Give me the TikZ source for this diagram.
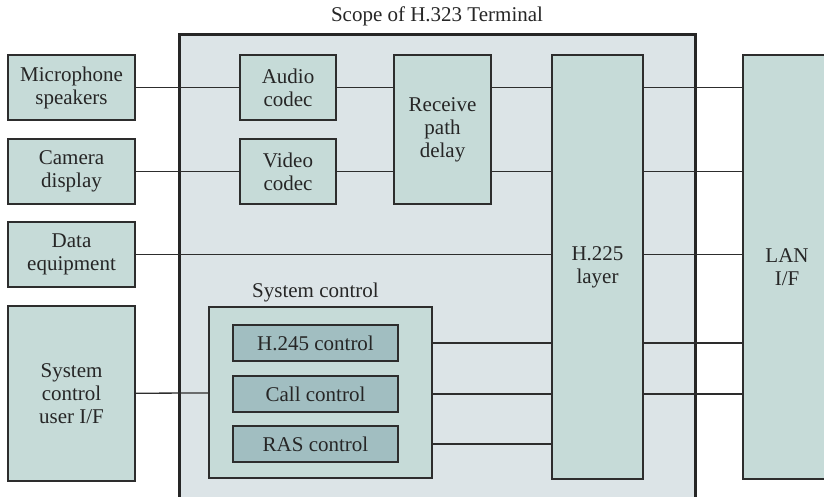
\documentclass[tikz,border=0pt]{standalone}
\usepackage{fontspec}
\setmainfont{Liberation Serif}
\usetikzlibrary{positioning}
\definecolor{Edge}{RGB}{45,45,45}
\definecolor{Box}{RGB}{198,219,216}
\definecolor{Scope}{RGB}{220,228,231}
\definecolor{Ctrl}{RGB}{161,190,193}
\begin{document}
\begin{tikzpicture}[x=0.5pt,y=-0.5pt,
 font=\fontsize{10.5}{11.5}\selectfont,
 b/.style={draw=Edge,fill=Box,line width=.65pt,inner sep=0pt,outer sep=0pt,align=center,text=black!85},
 c/.style={b,fill=Ctrl,minimum width=82.5pt,minimum height=18pt},
 l/.style={line width=.65pt,Edge}]
\path[use as bounding box,clip] (0,0) rectangle (824,497);
\node[draw=black!85,fill=Scope,line width=1.5pt,minimum width=258pt,minimum height=242.5pt,inner sep=0pt] (scope) at (437,277.5) {};
\node[above=0pt of scope.north,text=black!85] (title) {Scope of H.323 Terminal};
% devices outside the terminal
\node[b,minimum width=63.5pt,minimum height=32.5pt] (mic) at (71.5,87.5) {Microphone\\speakers};
\node[b,minimum width=63.5pt,minimum height=32.5pt,below=9.5pt of mic] (cam) {Camera\\display};
\node[b,minimum width=63.5pt,minimum height=32.5pt,below=9pt of cam] (data) {Data\\equipment};
\node[b,minimum width=63.5pt,minimum height=87.5pt,below=9.5pt of data] (ui) {System\\control\\user I/F};
% codecs and layers
\node[b,minimum width=48pt,minimum height=32.5pt] (audio) at (288,87.5) {Audio\\codec};
\node[b,minimum width=48pt,minimum height=32.5pt,below=9.5pt of audio] (video) {Video\\codec};
\node[b,minimum width=48.5pt,minimum height=74.5pt,right=29pt of audio.north east,anchor=north west] (rpd) {Receive\\path\\delay};
\node[b,minimum width=45.5pt,minimum height=212pt,right=30.5pt of rpd.north east,anchor=north west] (h225) {H.225\\layer};
\node[b,minimum width=44pt,minimum height=212pt,right=50pt of h225.north east,anchor=north west] (lan) {LAN\\I/F};
% system control
\node[b,minimum width=111.5pt,minimum height=85.5pt] (sys) at (320.5,392.5) {};
\node[above=-1pt of sys.north,xshift=-2.5pt,text=black!85] (syslbl) {System control};
\node[c] (h245) at (315.5,343) {H.245 control};
\node[c,below=7.5pt of h245] (call) {Call control};
\node[c,below=7pt of call] (ras) {RAS control};
% connections
\draw[l] (mic) -- (audio);
\draw[l] (cam) -- (video);
\draw[l] (audio.east) -- (audio.east -| rpd.west);
\draw[l] (video.east) -- (video.east -| rpd.west);
\draw[l] (audio -| rpd.east) -- (audio -| h225.west);
\draw[l] (video -| rpd.east) -- (video -| h225.west);
\draw[l] (audio -| h225.east) -- (audio -| lan.west);
\draw[l] (video -| h225.east) -- (video -| lan.west);
\draw[l] (data.east) -- (data.east -| h225.west);
\draw[l] (data -| h225.east) -- (data -| lan.west);
\draw[l] (ui) -- (sys);
\draw[l] (h245 -| sys.east) -- (h245 -| h225.west);
\draw[l] (call -| sys.east) -- (call -| h225.west);
\draw[l] (ras -| sys.east) -- (ras -| h225.west);
\draw[l] (h245 -| h225.east) -- (h245 -| lan.west);
\draw[l] (call -| h225.east) -- (call -| lan.west);
\end{tikzpicture}
\end{document}
